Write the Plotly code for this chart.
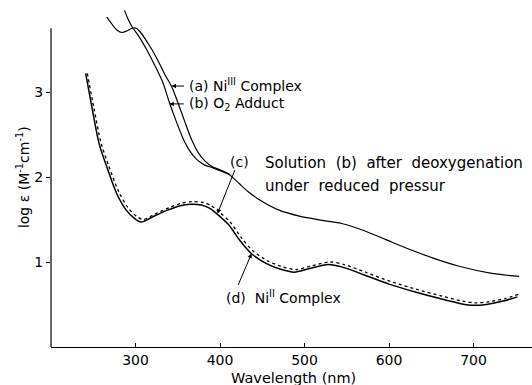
import plotly.graph_objects as go

# Curve (a) Ni(III) complex
wl_a = [266, 272, 278, 284, 290, 296, 301, 306, 315, 325, 335, 343, 350, 358, 366, 374, 382, 391, 401, 411,
        423, 433, 447, 470, 494, 521, 545, 570, 597, 624, 654, 683, 720, 754]
le_a = [3.88, 3.80, 3.73, 3.70, 3.72, 3.75, 3.75, 3.70, 3.57, 3.40, 3.20, 3.06, 2.88, 2.66, 2.45, 2.29, 2.19, 2.12, 2.08, 2.03,
        1.92, 1.83, 1.73, 1.61, 1.54, 1.49, 1.45, 1.37, 1.26, 1.15, 1.04, 0.95, 0.87, 0.83]

# Curve (b) O2 adduct (joins curve a near 400 nm)
wl_b = [287, 292, 297, 303, 312, 322, 332, 340, 348, 356, 364, 372, 382, 391, 401, 411]
le_b = [3.96, 3.84, 3.75, 3.67, 3.52, 3.33, 3.12, 2.88, 2.66, 2.46, 2.31, 2.21, 2.14, 2.11, 2.07, 2.03]

# Curve (d) Ni(II) complex (solid)
wl_d = [241, 249, 257, 266, 278, 289, 299, 307, 320, 338, 352, 365, 378, 388, 397, 410, 423, 437, 455, 470, 488,
        505, 528, 545, 570, 600, 630, 660, 685, 700, 715, 735, 752]
le_d = [3.22, 2.79, 2.39, 2.12, 1.80, 1.61, 1.51, 1.47, 1.53, 1.61, 1.66, 1.68, 1.67, 1.63, 1.56, 1.44, 1.26, 1.10, 0.98, 0.92, 0.88,
        0.92, 0.97, 0.94, 0.85, 0.74, 0.65, 0.57, 0.51, 0.49, 0.50, 0.54, 0.59]

# Curve (c) solution (b) after deoxygenation (dotted)
wl_c = [243, 251, 259, 268, 280, 291, 301, 309, 322, 340, 354, 367, 380, 390, 399, 412, 425, 439, 457, 472, 490,
        507, 530, 547, 572, 602, 632, 662, 687, 702, 717, 737, 753]
le_c = [3.22, 2.80, 2.41, 2.14, 1.83, 1.64, 1.54, 1.50, 1.56, 1.64, 1.69, 1.71, 1.70, 1.66, 1.59, 1.47, 1.29, 1.13, 1.01, 0.95, 0.91,
        0.95, 1.00, 0.97, 0.88, 0.77, 0.68, 0.60, 0.54, 0.52, 0.53, 0.57, 0.62]

x_ticks = [300, 400, 500, 600, 700]
y_ticks = [1, 2, 3]

FONT = "DejaVu Sans"

fig = go.Figure()
line_kw = dict(color="black", width=1.2, shape="spline", smoothing=0.8)
fig.add_trace(go.Scatter(x=wl_a, y=le_a, mode="lines", line=line_kw, showlegend=False, hoverinfo="skip"))
fig.add_trace(go.Scatter(x=wl_b, y=le_b, mode="lines", line=line_kw, showlegend=False, hoverinfo="skip"))
fig.add_trace(go.Scatter(x=wl_d, y=le_d, mode="lines", line=dict(line_kw, width=1.5), showlegend=False, hoverinfo="skip"))
fig.add_trace(go.Scatter(x=wl_c, y=le_c, mode="lines", line=dict(line_kw, dash="dot", width=1.3), showlegend=False, hoverinfo="skip"))

# y axis line (partial)
fig.add_shape(type="line", xref="paper", yref="y", x0=0, x1=0, y0=0, y1=3.75,
              line=dict(color="black", width=1.2))

arrow_kw = dict(showarrow=True, arrowhead=2, arrowsize=0.9, arrowwidth=1, arrowcolor="black", text="",
                axref="pixel", ayref="pixel")
text_kw = dict(showarrow=False, font=dict(family=FONT, size=14, color="black"))

ann = [
    dict(x=342.6, y=3.07, ax=14, ay=0, **arrow_kw),
    dict(x=340, y=2.86, ax=16, ay=0, **arrow_kw),
    dict(x=397, y=1.57, ax=18, ay=-45, **arrow_kw),
    dict(x=437.3, y=1.10, ax=-14, ay=33, **arrow_kw),
    dict(x=360.4, y=3.08, text="(a) Ni<sup>III</sup> Complex", xanchor="left", yanchor="middle", **text_kw),
    dict(x=360.4, y=2.86, text="(b) O<sub>2</sub> Adduct", xanchor="left", yanchor="middle", **text_kw),
    dict(x=423, y=2.18, text="(c)", xanchor="center", yanchor="middle", **text_kw),
    dict(x=450.3, y=2.17, text="Solution\u00a0\u00a0(b)\u00a0\u00a0after\u00a0\u00a0deoxygenation",
         xanchor="left", yanchor="middle", showarrow=False, font=dict(family=FONT, size=15, color="black")),
    dict(x=450.3, y=1.90, text="under\u00a0\u00a0reduced\u00a0\u00a0pressur",
         xanchor="left", yanchor="middle", showarrow=False, font=dict(family=FONT, size=15, color="black")),
    dict(x=405.3, y=0.584, text="(d)\u00a0\u00a0Ni<sup>II</sup> Complex", xanchor="left", yanchor="middle", **text_kw),
    dict(x=0.505, y=-0.09, xref="paper", yref="paper", text="Wavelength (nm)",
         xanchor="center", yanchor="middle", showarrow=False, font=dict(family=FONT, size=14.5, color="black")),
    dict(x=-0.058, y=0.5, xref="paper", yref="paper", text="log ε (M<sup>-1</sup>cm<sup>-1</sup>)",
         textangle=-90, xanchor="center", yanchor="middle", showarrow=False,
         font=dict(family=FONT, size=14, color="black")),
]
for a in ann:
    fig.add_annotation(**a)

fig.update_layout(
    width=532, height=385,
    margin=dict(l=51, r=0, t=7, b=38),
    paper_bgcolor="white", plot_bgcolor="white",
    font=dict(family=FONT, size=14, color="black"),
    xaxis=dict(range=[200, 769.2], tickvals=x_ticks, ticks="inside", ticklen=4, tickcolor="black",
               showline=True, linecolor="black", linewidth=1.2, showgrid=False, zeroline=False,
               tickfont=dict(family=FONT, size=14, color="black")),
    yaxis=dict(range=[0, 4.0], tickvals=y_ticks, ticks="outside", ticklen=4, tickcolor="black",
               showline=False, showgrid=False, zeroline=False,
               tickfont=dict(family=FONT, size=14, color="black")),
)

fig.write_html("out.html", config={"displayModeBar": False},
               post_script="document.body.style.margin='0';document.body.style.padding='0';"
                           "document.documentElement.style.overflow='hidden';")
